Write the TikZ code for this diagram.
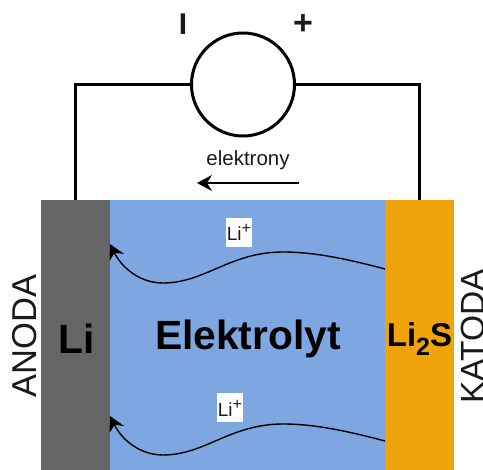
\documentclass[tikz,border=0pt]{standalone}
\usepackage{fontspec}
\setmainfont{Liberation Sans}
\usetikzlibrary{arrows.meta}
\newcommand{\fsz}[1]{\fontsize{#1}{#1}\selectfont}
\newcommand{\liplus}{\raisebox{-4pt}{Li}\raisebox{3pt}{\fsz{16}+}}
\definecolor{anodec}{HTML}{666666}
\definecolor{elec}{HTML}{7EA6E0}
\definecolor{cathc}{HTML}{F0A30A}
\definecolor{txtc}{HTML}{1A1A1A}
\tikzset{
  layer/.style={draw=none,inner sep=0pt,outer sep=0pt,minimum height=270pt,anchor=north west},
  wire/.style={line width=3pt,black},
  ion/.style={line width=1.4pt,black,-{Stealth[length=15pt,width=16pt,inset=5pt]}},
  flow/.style={line width=1.2pt,black,-{Stealth[length=15pt,width=16pt,inset=5pt]}},
  source/.style={circle,draw=black,line width=3pt,fill=white,minimum size=103pt,inner sep=0pt,outer sep=0pt},
  boldlabel/.style={font=\fsz{40.8}\bfseries,text=black,inner sep=0pt},
  sidelabel/.style={rotate=90,text=txtc,inner sep=0pt},
  ionlabel/.style={fill=white,font=\fsz{19},text=txtc,inner sep=0pt,minimum width=26pt,minimum height=29pt},
  sign/.style={font=\fsz{30}\bfseries,text=txtc,inner sep=0pt}
}
\begin{document}
\begin{tikzpicture}[x=1pt,y=-1pt]
\useasboundingbox (0,0) rectangle (483,470);
\node[layer,fill=anodec,minimum width=69pt] (anode) at (41,200) {};
\node[layer,fill=elec,minimum width=275pt] (electrolyte) at (110,200) {};
\node[layer,fill=cathc,minimum width=68.5pt] (cathode) at (385,200) {};
\node[source] (src) at (243,84.5) {};
\draw[wire,line join=miter] (src.west) -| (anode.north);
\draw[wire,line join=miter] (src.east) -| (cathode.north);
\node[sign] (minus) at (183,24.5) {I};
\node[sign,font=\fsz{34}\bfseries] (plus) at (303,24.5) {+};
\node[font=\fsz{20.5},text=txtc,inner sep=0pt] (el) at (248,160.5) {elektrony};
\coordinate (fs) at (299,183);
\coordinate (ft) at (197,183);
\draw[flow] (fs) -- (ft);
\node[boldlabel] (lanode) at (76.5,339) {Li};
\node[boldlabel] (lelec) at (248,339) {Elektrolyt};
\node[font=\fsz{33}\bfseries,text=black,inner sep=0pt] (lcath) at (419.5,339) {Li\raisebox{-9pt}{\fsz{25}2}S};
\node[sidelabel,font=\fsz{34.5}] (an) at (24.5,336) {ANODA};
\node[sidelabel,font=\fsz{33.5}] (ka) at (472.5,336.5) {KATODA};
\node[ionlabel] (i1) at (239,232.5) {\liplus};
\node[ionlabel] (i2) at (230,408) {\liplus};
\coordinate (a1) at (385,269);
\coordinate (b1) at (110,244);
\coordinate (a2) at (385,441);
\coordinate (b2) at (110,416);
\draw[ion] (a1) .. controls (340,257) and (310,252) .. (283,252) .. controls (230,252) and (205,283) .. (163,283) .. controls (140,283) and (122,268) .. (b1);
\draw[ion] (a2) .. controls (340,429) and (310,424) .. (283,424) .. controls (230,424) and (205,455) .. (163,455) .. controls (140,455) and (122,440) .. (b2);
\end{tikzpicture}
\end{document}
